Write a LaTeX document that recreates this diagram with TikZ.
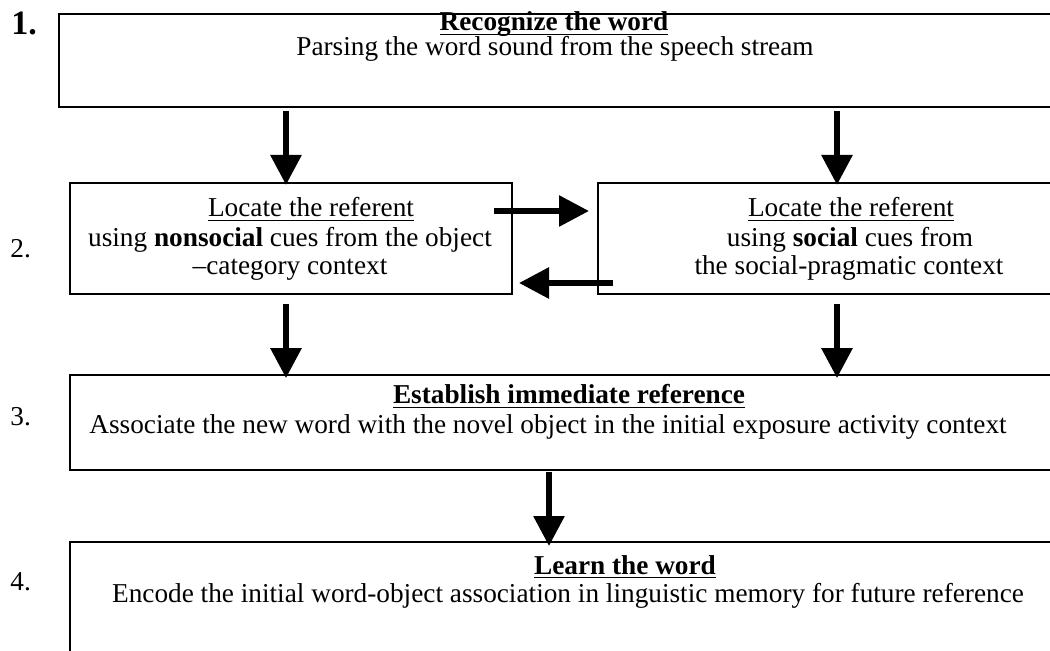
\documentclass[tikz,border=0pt]{standalone}
\usepackage{fontspec}
\setmainfont{Liberation Serif}
\usetikzlibrary{arrows.meta}
\newcommand{\ulhead}[1]{\underline{\smash{#1}}}

\begin{document}
\begin{tikzpicture}[x=0.44pt,y=-0.44pt,
  box/.style={draw,line width=0.9pt,anchor=north west,inner sep=0pt},
  txt/.style={anchor=base,inner sep=0pt,font=\fontsize{12}{13}\selectfont},
  num/.style={anchor=base west,inner sep=0pt,font=\fontsize{12}{13}\selectfont},
  bigarrow/.style={-{Triangle[width=13.2pt,length=13.2pt]},line width=2.6pt}]
  \useasboundingbox (0,0) rectangle (1050,651);
  \clip (0,0) rectangle (1050,651);

  % step numbers
  \node[num,font=\fontsize{15}{16}\selectfont\bfseries] (n1) at (11,35) {1.};
  \node[num] (n2) at (10,258) {2.};
  \node[num] (n3) at (10,425) {3.};
  \node[num] (n4) at (10,590) {4.};

  % boxes
  \node[box,minimum width=1042*0.44pt,minimum height=93*0.44pt]  (recog)  at (58,13)  {};
  \node[box,minimum width=442*0.44pt,minimum height=111*0.44pt]  (locnon) at (69,182) {};
  \node[box,minimum width=503*0.44pt,minimum height=111*0.44pt]  (locsoc) at (597,182) {};
  \node[box,minimum width=1031*0.44pt,minimum height=95*0.44pt]  (estab)  at (69,374) {};
  \node[box,minimum width=1031*0.44pt,minimum height=150*0.44pt] (learn)  at (69,541) {};

  % texts
  \node[txt] (recogT) at (554,31) {\ulhead{\textbf{Recognize the word}}};
  \node[txt] (recogB) at (555,56) {Parsing the word sound from the speech stream};

  \node[txt] (locnonT)  at (311,217) {\ulhead{Locate the referent}};
  \node[txt] (locnonB1) at (290,247) {using \textbf{nonsocial} cues from the object};
  \node[txt] (locnonB2) at (290,275) {--category context};

  \node[txt] (locsocT)  at (851,217) {\ulhead{Locate the referent}};
  \node[txt] (locsocB1) at (850,247) {using \textbf{social} cues from};
  \node[txt] (locsocB2) at (849,275) {the social-pragmatic context};

  \node[txt] (estabT) at (569,404) {\ulhead{\textbf{Establish immediate reference}}};
  \node[txt] (estabB) at (548,434) {Associate the new word with the novel object in the initial exposure activity context};

  \node[txt] (learnT) at (625,574) {\ulhead{\textbf{Learn the word}}};
  \node[txt] (learnB) at (568,602) {Encode the initial word-object association in linguistic memory for future reference};

  % arrows
  \coordinate (xl) at (286,0);
  \coordinate (xr) at (837,0);
  \coordinate (xm) at (549,0);
  \coordinate (toSocA) at (494,211);
  \coordinate (toSocB) at (589,211);
  \coordinate (toNonA) at (613,283);
  \coordinate (toNonB) at (519,283);

  \draw[bigarrow] ([yshift=-1.3pt]recog.south -| xl) -- ([yshift=-1.3pt]locnon.north -| xl);
  \draw[bigarrow] ([yshift=-1.3pt]recog.south -| xr) -- ([yshift=-1.3pt]locsoc.north -| xr);
  \draw[bigarrow] (toSocA) -- (toSocB);
  \draw[bigarrow] (toNonA) -- (toNonB);
  \draw[bigarrow] ([yshift=-4pt]locnon.south -| xl) -- ([yshift=-1.8pt]estab.north -| xl);
  \draw[bigarrow] ([yshift=-4pt]locsoc.south -| xr) -- ([yshift=-1.8pt]estab.north -| xr);
  \draw[bigarrow] ([yshift=-0.4pt]estab.south -| xm) -- ([yshift=-2.2pt]learn.north -| xm);
\end{tikzpicture}
\end{document}
